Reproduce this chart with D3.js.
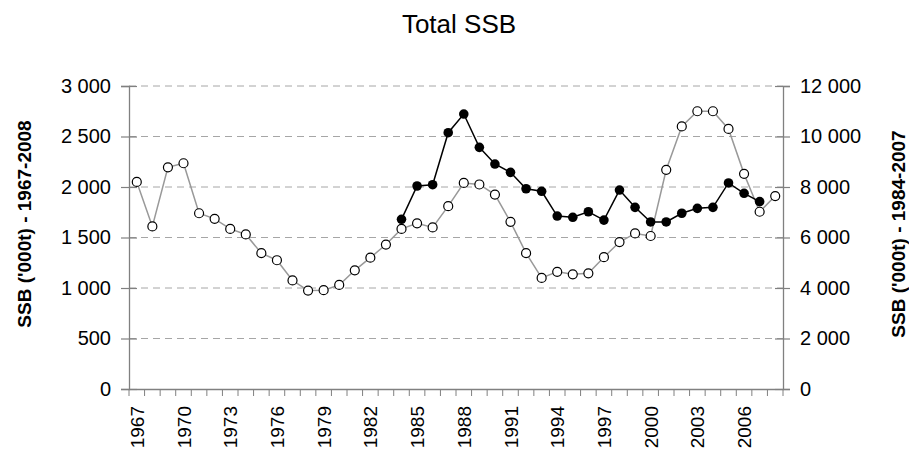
<!DOCTYPE html>
<html lang="en">
    <head>
        <meta charset="utf-8">
        <title>Total SSB</title>
        <script type="text/javascript" src="https://d3js.org/d3.v7.min.js"></script>
        <style>
            body { margin: 0; background: #fff; }
            svg { font-family: "Liberation Sans", Arial, sans-serif; }
        </style>
    </head>
    <body>
        <script>
            //Data
            const years = d3.range(1967, 2009);
            const ssbAll = [2050, 1610, 2195, 2235, 1740, 1685, 1585, 1530, 1345, 1275,
                            1075, 975, 978, 1030, 1175, 1300, 1430, 1585, 1640, 1600,
                            1810, 2040, 2025, 1925, 1655, 1345, 1100, 1160, 1135, 1145,
                            1305, 1455, 1540, 1515, 2170, 2600, 2750, 2750, 2575, 2130,
                            1755, 1910];
            const years2 = d3.range(1984, 2008);
            const ssbRecent = [6720, 8040, 8090, 10150, 10890, 9570, 8910, 8580, 7930, 7830,
                               6850, 6800, 7020, 6690, 7880, 7195, 6615, 6615, 6960, 7155,
                               7195, 8160, 7750, 7420];
            const leftTicks = [0, 500, 1000, 1500, 2000, 2500, 3000];
            const rightTicks = [0, 2000, 4000, 6000, 8000, 10000, 12000];
            const yearLabels = years.filter(function(d) { return (d - 1967) % 3 === 0; });

            const w = 909;
            const h = 451;
            const plotL = 129, plotR = 783, plotT = 86, plotB = 389;

            const fmt = d3.formatLocale({decimal: ".", thousands: " ", grouping: [3], currency: ["", ""]}).format(",d");

            const svg = d3.select("body")
                        .append("svg")
                        .attr("width", w)
                        .attr("height", h);

            let xScale = d3.scaleBand()
                            .domain(years)
                            .range([plotL, plotR]);

            let yLeft = d3.scaleLinear().domain([0, 3000]).range([plotB, plotT]);
            let yRight = d3.scaleLinear().domain([0, 12000]).range([plotB, plotT]);

            //Title
            svg.append("text")
               .attr("x", 459)
               .attr("y", 33)
               .attr("text-anchor", "middle")
               .attr("font-size", "26px")
               .text("Total SSB");

            //Gridlines
            svg.selectAll("line.grid")
               .data(leftTicks.filter(function(d) { return d > 0; }))
               .enter()
               .append("line")
               .attr("class", "grid")
               .attr("x1", plotL)
               .attr("x2", plotR)
               .attr("y1", function(d) { return yLeft(d); })
               .attr("y2", function(d) { return yLeft(d); })
               .attr("stroke", "#a6a6a6")
               .attr("stroke-dasharray", "7,5");

            //Axes
            const axL = svg.append("g")
               .attr("transform", "translate(" + plotL + ",0)")
               .call(d3.axisLeft(yLeft).tickValues(leftTicks).tickFormat(fmt).tickSizeOuter(0).tickSize(8).tickPadding(10));
            axL.selectAll(".tick line").attr("x2", 8).attr("x1", -8);
            const axR = svg.append("g")
               .attr("transform", "translate(" + plotR + ",0)")
               .call(d3.axisRight(yRight).tickValues(rightTicks).tickFormat(fmt).tickSizeOuter(0).tickSize(7).tickPadding(10));
            axR.selectAll(".tick line").attr("x1", -8);

            const axX = svg.append("g")
               .attr("transform", "translate(0," + plotB + ")")
               .call(d3.axisBottom(xScale).tickValues([]).tickSizeOuter(0));
            axX.selectAll(".xt")
               .data(years.concat([2009]))
               .enter()
               .append("line")
               .attr("class", "xt")
               .attr("x1", function(d) { return d === 2009 ? plotR : xScale(d); })
               .attr("x2", function(d) { return d === 2009 ? plotR : xScale(d); })
               .attr("y1", 0)
               .attr("y2", 7)
               .attr("stroke", "#808080");
            axX.selectAll(".xl")
               .data(yearLabels)
               .enter()
               .append("text")
               .attr("class", "xl")
               .attr("transform", function(d) {
                    return "translate(" + (xScale(d) + xScale.bandwidth() / 2 + 7) + ",17) rotate(-90)";
               })
               .attr("text-anchor", "end")
               .attr("font-size", "19px")
               .attr("fill", "#000")
               .text(function(d) { return d; });

            [axL, axR, axX].forEach(function(a) {
                a.selectAll("path.domain").attr("stroke", "#808080").attr("stroke-width", 1.3);
                a.selectAll(".tick line").attr("stroke", "#808080").attr("stroke-width", 1.2);
                a.selectAll(".tick text").attr("font-size", "20px").attr("fill", "#000")
                 .attr("font-family", "Liberation Sans, Arial, sans-serif");
            });

            //Axis titles
            svg.append("text")
               .attr("transform", "translate(31,224) rotate(-90)")
               .attr("text-anchor", "middle")
               .attr("font-size", "19px")
               .attr("font-weight", "bold")
               .text("SSB ('000t) - 1967-2008");
            svg.append("text")
               .attr("transform", "translate(905,234) rotate(-90)")
               .attr("text-anchor", "middle")
               .attr("font-size", "19px")
               .attr("font-weight", "bold")
               .text("SSB ('000t) - 1984-2007");

            const cx = function(d) { return xScale(d) + xScale.bandwidth() / 2; };

            //Grey series (left axis)
            const allPts = years.map(function(d, i) { return [d, ssbAll[i]]; });
            svg.append("path")
               .datum(allPts)
               .attr("fill", "none")
               .attr("stroke", "#999")
               .attr("stroke-width", 1.5)
               .attr("d", d3.line().x(function(d) { return cx(d[0]); }).y(function(d) { return yLeft(d[1]); }));

            //Black series (right axis)
            const recentPts = years2.map(function(d, i) { return [d, ssbRecent[i]]; });
            svg.append("path")
               .datum(recentPts)
               .attr("fill", "none")
               .attr("stroke", "#000")
               .attr("stroke-width", 1.5)
               .attr("d", d3.line().x(function(d) { return cx(d[0]); }).y(function(d) { return yRight(d[1]); }));

            svg.selectAll("circle.all")
               .data(allPts)
               .enter()
               .append("circle")
               .attr("class", "all")
               .attr("cx", function(d) { return cx(d[0]); })
               .attr("cy", function(d) { return yLeft(d[1]); })
               .attr("r", 4.5)
               .attr("fill", "#fff")
               .attr("stroke", "#000")
               .attr("stroke-width", 1.2);

            svg.selectAll("circle.recent")
               .data(recentPts)
               .enter()
               .append("circle")
               .attr("class", "recent")
               .attr("cx", function(d) { return cx(d[0]); })
               .attr("cy", function(d) { return yRight(d[1]); })
               .attr("r", 4.8)
               .attr("fill", "#000");
        </script>
    </body>
</html>
